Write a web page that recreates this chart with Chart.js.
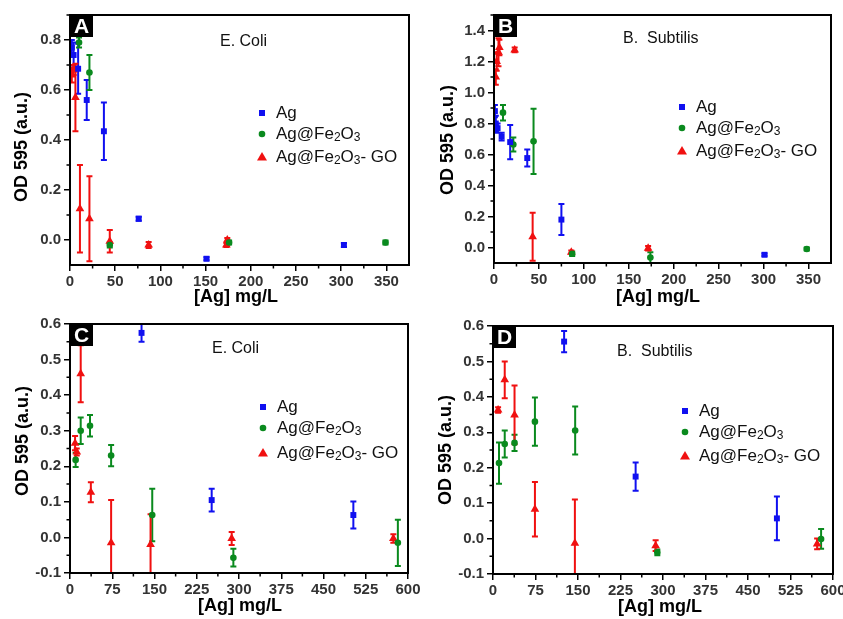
<!DOCTYPE html>
<html>
<head>
<meta charset="utf-8">
<script src="https://cdn.jsdelivr.net/npm/chart.js@4.4.1/dist/chart.umd.min.js"></script>
<style>
  body { margin: 0; background: #fff; width: 843px; height: 619px; overflow: hidden; position: relative; }
  canvas { position: absolute; }
</style>
</head>
<body>
<canvas id="pA" width="420" height="310" style="left:0;top:0"></canvas>
<canvas id="pB" width="419" height="310" style="left:424px;top:0"></canvas>
<canvas id="pC" width="420" height="309" style="left:0;top:310px"></canvas>
<canvas id="pD" width="419" height="309" style="left:424px;top:310px"></canvas>
<script>
/* ---------- tick labels ---------- */
const xTicksTop = [0, 50, 100, 150, 200, 250, 300, 350];
const xTicksBottom = [0, 75, 150, 225, 300, 375, 450, 525, 600];
const yTicksA = [0.0, 0.2, 0.4, 0.6, 0.8];
const yTicksB = [0.0, 0.2, 0.4, 0.6, 0.8, 1.0, 1.2, 1.4];
const yTicksCD = [-0.1, 0.0, 0.1, 0.2, 0.3, 0.4, 0.5, 0.6];

/* ---------- panel A : E. Coli ---------- */
const aAgX = [2, 4, 9, 18.5, 37.5, 76, 151, 303];
const aAgY = [0.77, 0.74, 0.685, 0.56, 0.435, 0.085, -0.075, -0.02];
const aAgE = [0.03, 0.05, 0.1, 0.08, 0.115, 0.008, 0.006, 0.008];
const aFeX = [10, 21.5, 44, 176, 349];
const aFeY = [0.79, 0.67, -0.02, -0.01, -0.01];
const aFeE = [0.02, 0.07, 0.01, 0.008, 0.008];
const aGoX = [2, 4, 6, 11, 21.5, 44, 87, 173, 174];
const aGoY = [0.66, 0.68, 0.57, 0.125, 0.085, -0.005, -0.02, -0.02, 0.0];
const aGoE = [0.03, 0.02, 0.135, 0.175, 0.17, 0.045, 0.012, 0.008, 0.008];

/* ---------- panel B : B. Subtilis ---------- */
const bAgX = [1, 2, 4, 8.5, 18, 37, 75, 301];
const bAgY = [0.88, 0.80, 0.77, 0.715, 0.68, 0.577, 0.18, -0.047];
const bAgE = [0.04, 0.05, 0.03, 0.025, 0.11, 0.055, 0.1, 0.008];
const bFeX = [10, 21.5, 44, 87, 174, 348];
const bFeY = [0.87, 0.665, 0.685, -0.04, -0.065, -0.01];
const bFeE = [0.05, 0.045, 0.21, 0.015, 0.035, 0.01];
const bGoX = [2, 3, 5, 6, 23, 43, 86, 171.5];
const bGoY = [1.1, 1.2, 1.26, 1.29, 1.275, 0.07, -0.03, -0.005];
const bGoE = [0.05, 0.06, 0.09, 0.05, 0.015, 0.155, 0.01, 0.015];

/* ---------- panel C : E. Coli ---------- */
const cAgX = [127, 251.5, 503];
const cAgY = [0.575, 0.105, 0.063];
const cAgE = [0.025, 0.032, 0.038];
const cFeX = [10, 19, 35.5, 73, 146, 290, 582];
const cFeY = [0.218, 0.30, 0.314, 0.23, 0.063, -0.057, -0.015];
const cFeE = [0.02, 0.037, 0.03, 0.03, 0.074, 0.025, 0.065];
const cGoX = [9, 12, 19, 37, 73, 143, 287, 574];
const cGoY = [0.265, 0.24, 0.46, 0.127, -0.015, -0.02, -0.003, -0.003];
const cGoE = [0.02, 0.01, 0.08, 0.028, 0.12, 0.085, 0.018, 0.012];

/* ---------- panel D : B. Subtilis ---------- */
const dAgX = [125.5, 251.7, 501];
const dAgY = [0.556, 0.175, 0.057];
const dAgE = [0.03, 0.04, 0.062];
const dFeX = [10.6, 20.7, 38, 74, 145, 290, 579];
const dFeY = [0.213, 0.267, 0.27, 0.33, 0.305, -0.039, -0.001];
const dFeE = [0.058, 0.038, 0.023, 0.068, 0.068, 0.008, 0.028];
const dGoX = [9, 20.7, 38, 74, 144.5, 287, 572];
const dGoY = [0.363, 0.448, 0.349, 0.083, -0.013, -0.02, -0.015];
const dGoE = [0.008, 0.052, 0.083, 0.077, 0.123, 0.015, 0.015];

const FONT = "'Liberation Sans', Arial, sans-serif";
const BLUE = "#1010f0", GREEN = "#0a8a1e", RED = "#f01010";
const legendLabels = [
  [["Ag", 0]],
  [["Ag@Fe", 0], ["2", 1], ["O", 0], ["3", 1]],
  [["Ag@Fe", 0], ["2", 1], ["O", 0], ["3", 1], ["- GO", 0]]
];

/* ---------- helpers ---------- */
function marker(ctx, style, x, y, color) {
  ctx.fillStyle = color;
  ctx.beginPath();
  if (style === "rect") ctx.rect(x - 3, y - 3, 6, 6);
  else if (style === "circle") ctx.arc(x, y, 3.3, 0, Math.PI * 2);
  else { ctx.moveTo(x, y - 5); ctx.lineTo(x + 5, y + 3.5); ctx.lineTo(x - 5, y + 3.5); ctx.closePath(); }
  ctx.fill();
}

function richText(ctx, parts, x, y) {
  parts.forEach(([t, sub]) => {
    ctx.font = sub ? "12px " + FONT : "17px " + FONT;
    ctx.fillText(t, x, sub ? y + 4 : y);
    x += ctx.measureText(t).width;
  });
}

/* ---------- drawing of the parts Chart.js has no option for ---------- */
const decor = {
  id: "decor",
  beforeDatasetsDraw(chart) {
    const { ctx, chartArea: a, scales } = chart;
    ctx.save();
    ctx.beginPath();
    ctx.rect(a.left, a.top, a.right - a.left, a.bottom - a.top);
    ctx.clip();
    chart.data.datasets.forEach(ds => {
      ctx.strokeStyle = ds.borderColor;
      ctx.lineWidth = 2;
      ds.data.forEach((p, i) => {
        const px = scales.x.getPixelForValue(p.x);
        const lo = scales.y.getPixelForValue(p.y - ds.err[i]);
        const hi = scales.y.getPixelForValue(p.y + ds.err[i]);
        ctx.beginPath();
        ctx.moveTo(px, lo); ctx.lineTo(px, hi);
        ctx.moveTo(px - 3, lo); ctx.lineTo(px + 3, lo);
        ctx.moveTo(px - 3, hi); ctx.lineTo(px + 3, hi);
        ctx.stroke();
      });
    });
    ctx.restore();
  },
  afterDraw(chart, args, o) {
    const { ctx, chartArea: a, scales } = chart;
    ctx.save();
    // frame
    ctx.strokeStyle = "#000";
    ctx.lineWidth = 2;
    ctx.strokeRect(a.left, a.top, a.right - a.left, a.bottom - a.top);

    // minor ticks
    ctx.lineWidth = 1.5;
    ctx.beginPath();
    const xs = o.xTicks, xStep = xs[1] - xs[0];
    for (let v = xs[0] + xStep / 2; v < scales.x.max; v += xStep) {
      const p = scales.x.getPixelForValue(v);
      ctx.moveTo(p, a.bottom); ctx.lineTo(p, a.bottom + 3.5);
    }
    const ys = o.yTicks, yStep = ys[1] - ys[0];
    for (let v = ys[0] - yStep / 2; v < scales.y.max; v += yStep) {
      if (v <= scales.y.min) continue;
      const p = scales.y.getPixelForValue(v);
      ctx.moveTo(a.left, p); ctx.lineTo(a.left - 3.5, p);
    }
    ctx.stroke();

    // panel letter
    ctx.fillStyle = "#000";
    ctx.fillRect(a.left, a.top, 23, 22);
    ctx.fillStyle = "#fff";
    ctx.font = "bold 21px " + FONT;
    ctx.textAlign = "center";
    ctx.textBaseline = "middle";
    ctx.fillText(o.letter, a.left + 11.5, a.top + 12);

    // organism note
    ctx.fillStyle = "#111";
    ctx.font = "16px " + FONT;
    ctx.textAlign = "left";
    ctx.fillText(o.note, o.noteX, o.noteY);

    // legend
    const styles = ["rect", "circle", "triangle"];
    chart.data.datasets.forEach((ds, i) => {
      marker(ctx, styles[i], o.legX, o.legY[i], ds.borderColor);
      ctx.fillStyle = "#111";
      richText(ctx, legendLabels[i], o.legX + 14, o.legY[i]);
    });

    // axis titles
    ctx.fillStyle = "#000";
    ctx.font = "bold 18px " + FONT;
    ctx.textAlign = "center";
    ctx.fillText("[Ag] mg/L", o.xTitle[0], o.xTitle[1]);
    ctx.translate(o.yTitle[0], o.yTitle[1]);
    ctx.rotate(-Math.PI / 2);
    ctx.fillText("OD 595 (a.u.)", 0, 0);
    ctx.restore();
  }
};

function series(xs, ys, es, color, style, r) {
  return {
    data: xs.map((x, i) => ({ x, y: ys[i] })),
    err: es,
    borderColor: color,
    backgroundColor: color,
    pointStyle: style,
    pointRadius: r,
    pointBorderWidth: 0
  };
}

function makePanel(id, sets, p) {
  const tickFont = { family: FONT, size: 15, weight: "bold" };
  const axisGrid = { drawOnChartArea: false, color: "#000", lineWidth: 1.5, tickLength: 6 };
  new Chart(document.getElementById(id), {
    type: "scatter",
    data: { datasets: sets },
    options: {
      responsive: false,
      animation: false,
      layout: { padding: { top: p.padTop, right: p.padRight, left: 0, bottom: 0 } },
      plugins: {
        legend: { display: false },
        tooltip: { enabled: false },
        decor: p
      },
      scales: {
        x: {
          type: "linear", min: 0, max: p.xMax,
          afterBuildTicks: s => { s.ticks = p.xTicks.map(v => ({ value: v })); },
          afterFit: s => { s.height = p.xHeight; s.paddingLeft = 0; s.paddingRight = 0; },
          ticks: { font: tickFont, color: "#333", padding: 2, maxRotation: 0, autoSkip: false },
          grid: axisGrid,
          border: { color: "#000", width: 2 }
        },
        y: {
          type: "linear", min: p.yMin, max: p.yMax,
          afterBuildTicks: s => { s.ticks = p.yTicks.map(v => ({ value: v })); },
          afterFit: s => { s.width = p.yWidth; s.paddingTop = 0; s.paddingBottom = 0; },
          ticks: { font: tickFont, color: "#333", padding: 3, autoSkip: false, callback: v => v.toFixed(1) },
          grid: axisGrid,
          border: { color: "#000", width: 2 }
        }
      }
    },
    plugins: [decor]
  });
}

makePanel("pA", [
  series(aAgX, aAgY, aAgE, BLUE, "rect", 4.2),
  series(aFeX, aFeY, aFeE, GREEN, "circle", 3.3),
  series(aGoX, aGoY, aGoE, RED, "triangle", 5)
], {
  padTop: 15, padRight: 11, xHeight: 45, yWidth: 70,
  xMax: 375, yMin: -0.1, yMax: 0.9, xTicks: xTicksTop, yTicks: yTicksA,
  letter: "A", note: "E. Coli", noteX: 220, noteY: 42,
  legX: 262, legY: [113, 134, 157], xTitle: [236, 297], yTitle: [22, 147]
});

makePanel("pB", [
  series(bAgX, bAgY, bAgE, BLUE, "rect", 4.2),
  series(bFeX, bFeY, bFeE, GREEN, "circle", 3.3),
  series(bGoX, bGoY, bGoE, RED, "triangle", 5)
], {
  padTop: 15, padRight: 12, xHeight: 47, yWidth: 70,
  xMax: 375, yMin: -0.1, yMax: 1.5, xTicks: xTicksTop, yTicks: yTicksB,
  letter: "B", note: "B.  Subtilis", noteX: 199, noteY: 39,
  legX: 258, legY: [107, 128, 151], xTitle: [234, 297], yTitle: [24, 140]
});

makePanel("pC", [
  series(cAgX, cAgY, cAgE, BLUE, "rect", 4.2),
  series(cFeX, cFeY, cFeE, GREEN, "circle", 3.3),
  series(cGoX, cGoY, cGoE, RED, "triangle", 5)
], {
  padTop: 14, padRight: 12, xHeight: 46, yWidth: 70,
  xMax: 600, yMin: -0.1, yMax: 0.6, xTicks: xTicksBottom, yTicks: yTicksCD,
  letter: "C", note: "E. Coli", noteX: 212, noteY: 39,
  legX: 263, legY: [97, 118, 143], xTitle: [240, 296], yTitle: [23, 131]
});

makePanel("pD", [
  series(dAgX, dAgY, dAgE, BLUE, "rect", 4.2),
  series(dFeX, dFeY, dFeE, GREEN, "circle", 3.3),
  series(dGoX, dGoY, dGoE, RED, "triangle", 5)
], {
  padTop: 16, padRight: 10, xHeight: 45, yWidth: 69,
  xMax: 600, yMin: -0.1, yMax: 0.6, xTicks: xTicksBottom, yTicks: yTicksCD,
  letter: "D", note: "B.  Subtilis", noteX: 193, noteY: 42,
  legX: 261, legY: [101, 122, 146], xTitle: [236, 297], yTitle: [22, 140]
});
</script>
</body>
</html>
